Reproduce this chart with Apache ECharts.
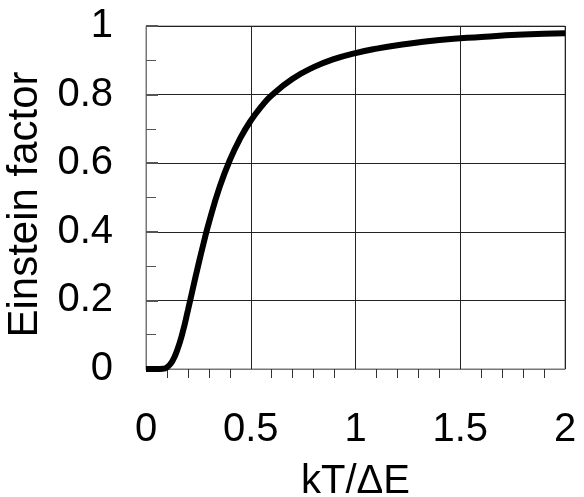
<!DOCTYPE html>
<html>
<head>
<meta charset="utf-8">
<script src="https://cdn.jsdelivr.net/npm/echarts@6/dist/echarts.min.js"></script>
<style>
  html, body { margin: 0; padding: 0; background: #fff; }
  #chart { width: 584px; height: 497px; }
</style>
</head>
<body>
<div id="chart"></div>
<script>
// kT/ΔE values and Einstein factor
var kT = [0, 0.05, 0.08, 0.1, 0.125, 0.15, 0.175, 0.2, 0.225, 0.25, 0.275, 0.3, 0.35, 0.4, 0.45, 0.5,
  0.55, 0.6, 0.7, 0.8, 0.9, 1.0, 1.1, 1.2, 1.4, 1.6, 1.8, 2.0];
var factor = [0, 0, 0.0005, 0.005, 0.022, 0.057, 0.107, 0.171, 0.238, 0.304, 0.367, 0.426, 0.528, 0.609, 0.673, 0.724,
  0.765, 0.798, 0.846, 0.88, 0.904, 0.921, 0.934, 0.944, 0.959, 0.968, 0.975, 0.979];
var xTicks = [0, 0.5, 1, 1.5, 2];
var yTicks = [0, 0.2, 0.4, 0.6, 0.8, 1];

var chart = echarts.init(document.getElementById("chart"));
var fontFam = "Liberation Sans, Arial, sans-serif";

var pts = kT.map(function(x, i) {
  return [x, factor[i]];
});

var option = {
  animation: false,
  backgroundColor: "#fff",
  grid: {
    left: 146,
    right: 19,
    top: 26,
    bottom: 128,
    outerBoundsMode: "none",
    containLabel: false,
    show: true,
    borderColor: "#777",
    borderWidth: 1
  },
  xAxis: {
    type: "value",
    min: xTicks[0],
    max: xTicks[xTicks.length - 1],
    interval: 0.5,
    name: "kT/\u0394E",
    nameLocation: "middle",
    nameGap: 93,
    nameTextStyle: { color: "#000", fontSize: 40, fontFamily: fontFam },
    axisLine: { show: true, lineStyle: { color: "#777", width: 1 } },
    axisTick: { show: false },
    minorTick: { show: true, splitNumber: 5, length: 9, lineStyle: { color: "#333", width: 1 } },
    axisLabel: {
      color: "#000",
      fontSize: 40,
      fontFamily: fontFam,
      margin: 41,
      formatter: function(v) { return String(v); }
    },
    splitLine: { show: true, lineStyle: { color: "#222", width: 1 } }
  },
  yAxis: {
    type: "value",
    min: yTicks[0],
    max: yTicks[yTicks.length - 1],
    interval: 0.2,
    name: "Einstein factor",
    nameLocation: "middle",
    nameGap: 92,
    nameTextStyle: { color: "#000", fontSize: 42, fontFamily: fontFam, padding: [0, 14, 0, 0] },
    axisLine: { show: true, lineStyle: { color: "#777", width: 1 } },
    axisTick: { show: true, inside: true, length: 12, lineStyle: { color: "#555", width: 2 } },
    minorTick: { show: true, splitNumber: 2, length: 10, lineStyle: { color: "#555", width: 1 } },
    axisLabel: {
      color: "#000",
      fontSize: 40,
      fontFamily: fontFam,
      margin: 33,
      formatter: function(v) { return String(Math.round(v * 10) / 10); }
    },
    splitLine: { show: true, lineStyle: { color: "#222", width: 1 } }
  },
  series: [
    {
      type: "line",
      data: pts,
      smooth: true,
      showSymbol: false,
      lineStyle: { color: "#000", width: 6 },
      z: 5
    }
  ]
};

chart.setOption(option);
</script>
</body>
</html>
